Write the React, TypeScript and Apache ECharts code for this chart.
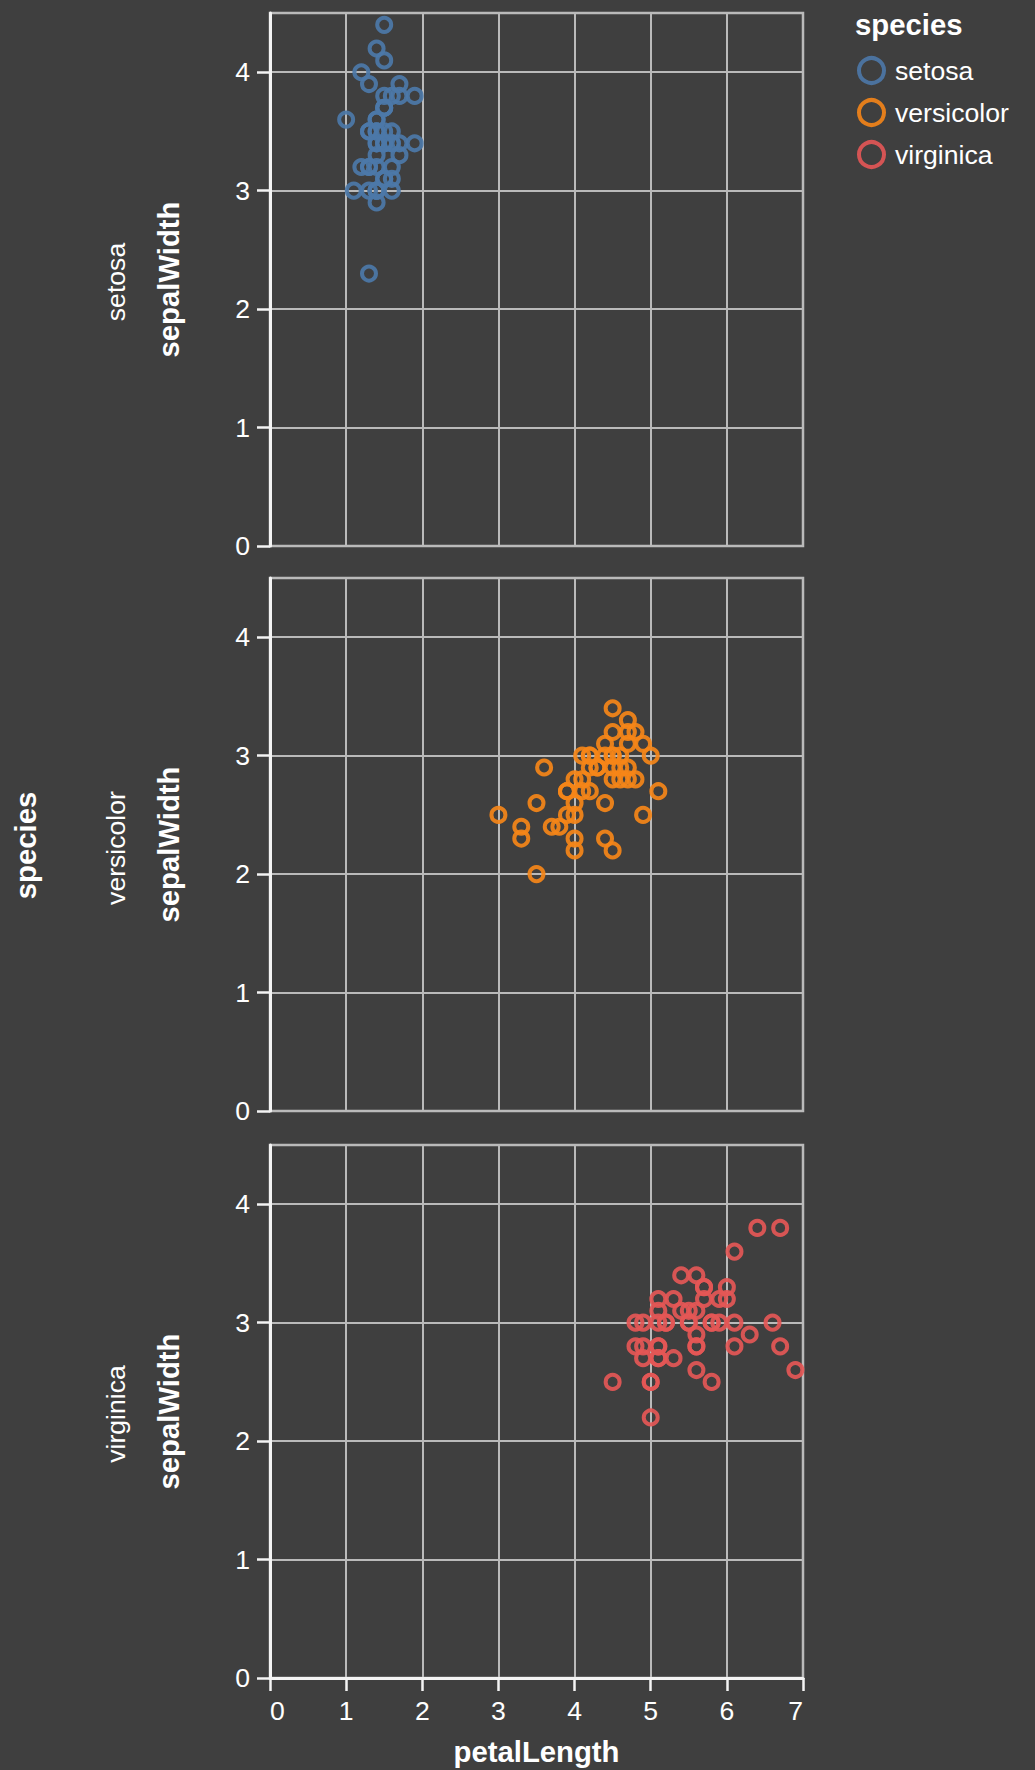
import React, { useEffect, useRef } from "react";
import * as echarts from "echarts";

// ---- data (iris: petalLength vs sepalWidth, by species) ----
const speciesNames = ["setosa", "versicolor", "virginica"];
const speciesColors = ["#4c78a8", "#f58518", "#e45756"];

const setosaPetalLength = [
  1.4, 1.4, 1.3, 1.5, 1.4, 1.7, 1.4, 1.5, 1.4, 1.5, 1.5, 1.6, 1.4, 1.1, 1.2, 1.5, 1.3, 1.4, 1.7, 1.5,
  1.7, 1.5, 1.0, 1.7, 1.9, 1.6, 1.6, 1.5, 1.4, 1.6, 1.6, 1.5, 1.5, 1.4, 1.5, 1.2, 1.3, 1.4, 1.3, 1.5,
  1.3, 1.3, 1.3, 1.6, 1.9, 1.4, 1.6, 1.4, 1.5, 1.4,
];
const setosaSepalWidth = [
  3.5, 3.0, 3.2, 3.1, 3.6, 3.9, 3.4, 3.4, 2.9, 3.1, 3.7, 3.4, 3.0, 3.0, 4.0, 4.4, 3.9, 3.5, 3.8, 3.8,
  3.4, 3.7, 3.6, 3.3, 3.4, 3.0, 3.4, 3.5, 3.4, 3.2, 3.1, 3.4, 4.1, 4.2, 3.1, 3.2, 3.5, 3.6, 3.0, 3.4,
  3.5, 2.3, 3.2, 3.5, 3.8, 3.0, 3.8, 3.2, 3.7, 3.3,
];
const versicolorPetalLength = [
  4.7, 4.5, 4.9, 4.0, 4.6, 4.5, 4.7, 3.3, 4.6, 3.9, 3.5, 4.2, 4.0, 4.7, 3.6, 4.4, 4.5, 4.1, 4.5, 3.9,
  4.8, 4.0, 4.9, 4.7, 4.3, 4.4, 4.8, 5.0, 4.5, 3.5, 3.8, 3.7, 3.9, 5.1, 4.5, 4.5, 4.7, 4.4, 4.1, 4.0,
  4.4, 4.6, 4.0, 3.3, 4.2, 4.2, 4.2, 4.3, 3.0, 4.1,
];
const versicolorSepalWidth = [
  3.2, 3.2, 3.1, 2.3, 2.8, 2.8, 3.3, 2.4, 2.9, 2.7, 2.0, 3.0, 2.2, 2.9, 2.9, 3.1, 3.0, 2.7, 2.2, 2.5,
  3.2, 2.8, 2.5, 2.8, 2.9, 3.0, 2.8, 3.0, 2.9, 2.6, 2.4, 2.4, 2.7, 2.7, 3.0, 3.4, 3.1, 2.3, 3.0, 2.5,
  2.6, 3.0, 2.6, 2.3, 2.7, 3.0, 2.9, 2.9, 2.5, 2.8,
];
const virginicaPetalLength = [
  6.0, 5.1, 5.9, 5.6, 5.8, 6.6, 4.5, 6.3, 5.8, 6.1, 5.1, 5.3, 5.5, 5.0, 5.1, 5.3, 5.5, 6.7, 6.9, 5.0,
  5.7, 4.9, 6.7, 4.9, 5.7, 6.0, 4.8, 4.9, 5.6, 5.8, 6.1, 6.4, 5.6, 5.1, 5.6, 6.1, 5.6, 5.5, 4.8, 5.4,
  5.6, 5.1, 5.1, 5.9, 5.7, 5.2, 5.0, 5.2, 5.4, 5.1,
];
const virginicaSepalWidth = [
  3.3, 2.7, 3.0, 2.9, 3.0, 3.0, 2.5, 2.9, 2.5, 3.6, 3.2, 2.7, 3.0, 2.5, 2.8, 3.2, 3.0, 3.8, 2.6, 2.2,
  3.2, 2.8, 2.8, 2.7, 3.3, 3.2, 2.8, 3.0, 2.8, 3.0, 2.8, 3.8, 2.8, 2.8, 2.6, 3.0, 3.4, 3.1, 3.0, 3.1,
  3.1, 3.1, 2.7, 3.2, 3.3, 3.0, 2.5, 3.0, 3.4, 3.0,
];

const petalLengths = [setosaPetalLength, versicolorPetalLength, virginicaPetalLength];
const sepalWidths = [setosaSepalWidth, versicolorSepalWidth, virginicaSepalWidth];

const xTickValues = [0, 1, 2, 3, 4, 5, 6, 7];
const yTickValues = [0, 1, 2, 3, 4];

// ---- layout / style ----
const W = 1035;
const H = 1770;
const PLOT_LEFT = 270;
const PLOT_W = 533;
const PLOT_H = 533;
const PLOT_TOPS = [13, 578, 1145];
const ROW_LABEL_Y = [282, 848, 1414];
const BG = "#3f3f3f";
const GRID_COLOR = "#bababa";
const AXIS_COLOR = "#f4f4f4";
const TEXT_COLOR = "#ffffff";
const FONT = '"Liberation Sans", Arial, Helvetica, sans-serif';
const LABEL_SIZE = 26.6;
const TITLE_SIZE = 29.3;

export default function App() {
  const ref = useRef<HTMLDivElement>(null);

  useEffect(() => {
    if (!ref.current) return;
    const chart = echarts.init(ref.current, undefined, { renderer: "svg" });

    const grids = PLOT_TOPS.map((t) => ({
      left: PLOT_LEFT,
      top: t,
      width: PLOT_W,
      height: PLOT_H,
      show: true,
      borderColor: GRID_COLOR,
      borderWidth: 2.5,
      backgroundColor: "transparent",
    }));

    const xAxes = PLOT_TOPS.map((_, i) => {
      const bottom = i === PLOT_TOPS.length - 1;
      return {
        type: "value",
        gridIndex: i,
        min: xTickValues[0],
        max: xTickValues[xTickValues.length - 1],
        interval: 1,
        axisLine: { show: bottom, onZero: false, lineStyle: { color: AXIS_COLOR, width: 3 } },
        axisTick: { show: bottom, length: 13, lineStyle: { color: AXIS_COLOR, width: 2.5 } },
        axisLabel: {
          show: bottom,
          margin: 19,
          color: TEXT_COLOR,
          fontSize: LABEL_SIZE,
          fontFamily: FONT,
          alignMinLabel: "left",
          alignMaxLabel: "right",
        },
        splitLine: { show: true, lineStyle: { color: GRID_COLOR, width: 2 } },
        name: bottom ? "petalLength" : "",
        nameLocation: "middle",
        nameGap: 59,
        nameTextStyle: {
          color: TEXT_COLOR,
          fontSize: TITLE_SIZE,
          fontWeight: "bold",
          fontFamily: FONT,
        },
      };
    });

    const yAxes = PLOT_TOPS.map((_, i) => ({
      type: "value",
      gridIndex: i,
      min: 0,
      max: 4.5,
      interval: 1,
      axisLine: { show: true, onZero: false, lineStyle: { color: AXIS_COLOR, width: 3 } },
      axisTick: {
        show: true,
        length: 13,
        customValues: yTickValues,
        lineStyle: { color: AXIS_COLOR, width: 2.5 },
      },
      axisLabel: {
        customValues: yTickValues,
        margin: 20,
        color: TEXT_COLOR,
        fontSize: LABEL_SIZE,
        fontFamily: FONT,
      },
      splitLine: { show: true, lineStyle: { color: GRID_COLOR, width: 2 } },
      name: "sepalWidth",
      nameLocation: "middle",
      nameRotate: 90,
      nameGap: 87,
      nameTextStyle: {
        color: TEXT_COLOR,
        fontSize: TITLE_SIZE,
        fontWeight: "bold",
        fontFamily: FONT,
      },
    }));

    const series = speciesNames.map((name, i) => ({
      type: "scatter",
      name,
      xAxisIndex: i,
      yAxisIndex: i,
      data: petalLengths[i].map((x, j) => [x, sepalWidths[i][j]]),
      symbol: "circle",
      symbolSize: 14,
      itemStyle: {
        color: "transparent",
        borderColor: speciesColors[i],
        borderWidth: 4,
        opacity: 0.92,
      },
      emphasis: { disabled: true },
    }));

    const graphics: any[] = [
      {
        type: "text",
        x: 855,
        y: 24,
        style: {
          text: "species",
          fill: TEXT_COLOR,
          fontSize: TITLE_SIZE,
          fontWeight: "bold",
          fontFamily: FONT,
          align: "left",
          verticalAlign: "middle",
        },
      },
      {
        type: "text",
        x: 25.5,
        y: (PLOT_TOPS[0] + PLOT_TOPS[2] + PLOT_H) / 2,
        rotation: Math.PI / 2,
        style: {
          text: "species",
          fill: TEXT_COLOR,
          fontSize: TITLE_SIZE,
          fontWeight: "bold",
          fontFamily: FONT,
          align: "center",
          verticalAlign: "middle",
        },
      },
      ...speciesNames.map((name, i) => ({
        type: "text",
        x: 115.8,
        y: ROW_LABEL_Y[i],
        rotation: Math.PI / 2,
        style: {
          text: name,
          fill: TEXT_COLOR,
          fontSize: LABEL_SIZE,
          fontFamily: FONT,
          align: "center",
          verticalAlign: "middle",
        },
      })),
    ];

    chart.setOption({
      animation: false,
      backgroundColor: BG,
      grid: grids,
      xAxis: xAxes,
      yAxis: yAxes,
      series,
      legend: {
        orient: "vertical",
        left: 857,
        top: 56,
        padding: 0,
        itemWidth: 25,
        itemHeight: 25,
        itemGap: 13,
        icon: "circle",
        selectedMode: false,
        data: speciesNames.map((name, i) => ({
          name,
          itemStyle: {
            color: "transparent",
            borderColor: speciesColors[i],
            borderWidth: 4,
            opacity: 0.9,
          },
        })),
        textStyle: {
          color: TEXT_COLOR,
          fontSize: LABEL_SIZE,
          fontFamily: FONT,
          padding: [0, 0, 0, 6],
        },
      },
      graphic: graphics,
    });

    return () => chart.dispose();
  }, []);

  return (
    <div
      ref={ref}
      style={{ position: "absolute", left: 0, top: 0, width: W, height: H }}
    />
  );
}
